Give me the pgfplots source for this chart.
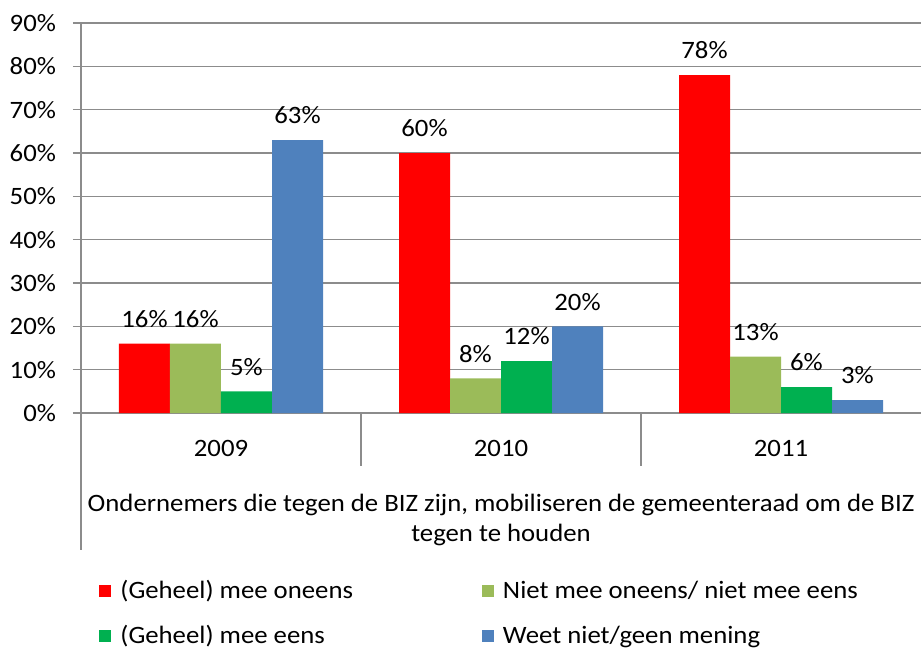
\documentclass[border=0pt]{standalone}
\usepackage{fontspec}
\setmainfont{Carlito}[FakeStretch=1.07]
\usepackage{pgfplots}
\pgfplotsset{compat=1.18}

\definecolor{cRed}{HTML}{FF0000}
\definecolor{cOlive}{HTML}{9BBB59}
\definecolor{cGreen}{HTML}{00B050}
\definecolor{cBlue}{HTML}{4F81BD}
\definecolor{linegray}{HTML}{8C8C8C}

\newcommand{\chartfont}{\fontsize{12.5}{15}\selectfont}

\begin{document}
\begin{tikzpicture}
% page = 921x649 px at 0.5pt per px; axis origin at px (81,413)
\useasboundingbox (-40.5pt,-118pt) rectangle (420pt,206.5pt);
\begin{axis}[
    at={(0pt,0pt)}, anchor=south west,
    width=420pt, height=195pt, scale only axis,
    ybar=0pt, bar width=25.5pt,
    xmin=0.5, xmax=3.5, ymin=0, ymax=90,
    xtick={1,2,3}, xticklabels={2009,2010,2011},
    ytick={0,10,...,90},
    yticklabel={\pgfmathprintnumber{\tick}\%},
    /pgf/number format/assume math mode=true,
    axis x line*=bottom, axis y line*=left,
    axis line style={-, linegray, line width=0.7pt},
    ymajorgrids, grid style={linegray, line width=0.7pt},
    tick align=outside, major tick length=4pt,
    y tick style={linegray, line width=0.7pt},
    x tick style={draw=none},
    tick label style={font=\chartfont},
    yticklabel style={xshift=-5pt},
    xticklabel style={yshift=-6pt},
    xlabel={Ondernemers die tegen de BIZ zijn, mobiliseren de gemeenteraad om de BIZ\\tegen te houden},
    xlabel style={font=\chartfont, align=center, at={(axis description cs:0.5,0)}, anchor=center, yshift=-53.5pt},
    nodes near coords={\pgfmathprintnumber{\pgfplotspointmeta}\%},
    nodes near coords style={font=\chartfont, text=black, yshift=4.5pt},
    legend columns=2,
    legend cell align=left,
    legend image code/.code={\fill[#1] (0pt,-3pt) rectangle (6pt,3pt); \path (8.5pt,0pt);},
    legend style={
        at={(axis description cs:0,0)}, anchor=north west,
        xshift=6pt, yshift=-79.5pt,
        draw=none, fill=none, font=\chartfont, row sep=8pt,
        /tikz/every even column/.append style={column sep=62.5pt},
    },
    clip=false,
]

\addplot[fill=cRed, draw=none] coordinates {(1,16) (2,60) (3,78)};
\addlegendentry{(Geheel) mee oneens}

\addplot[fill=cOlive, draw=none] coordinates {(1,16) (2,8) (3,13)};
\addlegendentry{Niet mee oneens/ niet mee eens}

\addplot[fill=cGreen, draw=none] coordinates {(1,5) (2,12) (3,6)};
\addlegendentry{(Geheel) mee eens}

\addplot[fill=cBlue, draw=none] coordinates {(1,63) (2,20) (3,3)};
\addlegendentry{Weet niet/geen mening}

% category separators and the longer left axis line below the plot
\draw[linegray, line width=0.7pt] (axis cs:0.5,0) -- ([yshift=-68.5pt]axis cs:0.5,0);
\draw[linegray, line width=0.7pt] (axis cs:1.5,0) -- ([yshift=-26.5pt]axis cs:1.5,0);
\draw[linegray, line width=0.7pt] (axis cs:2.5,0) -- ([yshift=-26.5pt]axis cs:2.5,0);

\end{axis}
\end{tikzpicture}
\end{document}
